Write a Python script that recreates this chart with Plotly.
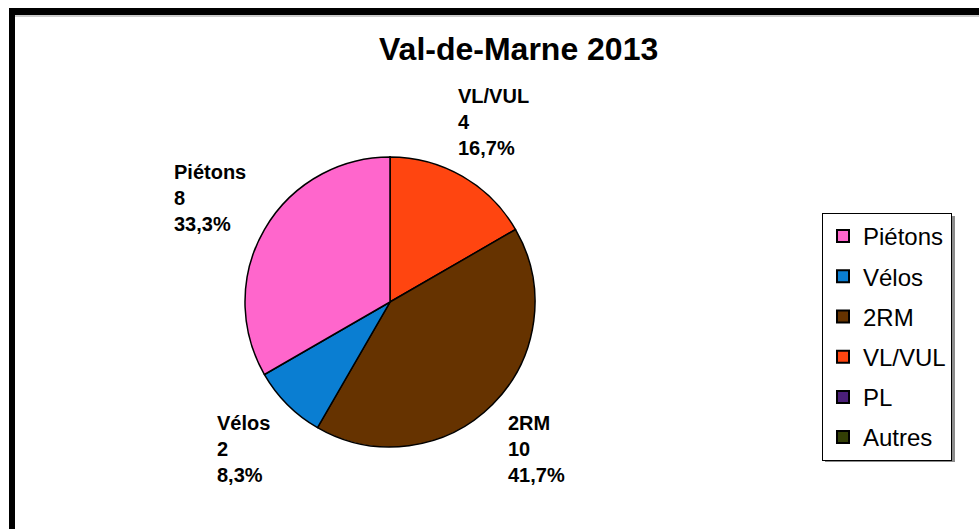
import math
import plotly.graph_objects as go

W, H = 979, 529

categories = ["Piétons", "Vélos", "2RM", "VL/VUL", "PL", "Autres"]
values = [8, 2, 10, 4, 0, 0]
colors = ["#FF66CC", "#0A7ED2", "#663300", "#FF4510", "#4B1F78", "#333F05"]
title_text = "Val-de-Marne 2013"

# pie placement (pixels)
cx, cy, R = 390, 302, 145
dom_x = [(cx - R) / W, (cx + R) / W]
dom_y = [(H - (cy + R)) / H, (H - (cy - R)) / H]

# Excel-style: first category ends at 12 o'clock, slices go counterclockwise.
# Equivalent in plotly: reversed order drawn clockwise from 12 o'clock.
fig = go.Figure()
fig.add_trace(go.Pie(
    labels=categories[::-1], values=values[::-1], sort=False,
    direction="clockwise", rotation=0,
    marker=dict(colors=colors[::-1], line=dict(color="black", width=1.5)),
    textinfo="none", hoverinfo="label+value+percent",
    domain=dict(x=dom_x, y=dom_y), showlegend=False,
))

# legend via dummy traces
for cat, col in zip(categories, colors):
    fig.add_trace(go.Scatter(
        x=[None], y=[None], mode="markers", name=cat, legendgroup=cat,
        marker=dict(symbol="square", size=16, color=col, line=dict(color="black", width=1)),
        showlegend=True,
    ))

# data labels computed from slice mid-angles (counterclockwise from top)
total = sum(values)
cum = 0
annotations = []
for cat, v in zip(categories, values):
    if v > 0:
        theta = 2 * math.pi * (cum + v / 2) / total
        dx = -math.sin(theta)
        dyu = math.cos(theta)
        px = cx + 1.43 * R * dx
        py = cy - 1.43 * R * dyu
        pct = f"{100 * v / total:.1f}".replace(".", ",") + "%"
        annotations.append(dict(
            x=px / W, y=(H - py) / H, xref="paper", yref="paper",
            text=f"<b>{cat}<br>{v}<br>{pct}</b>", showarrow=False,
            xanchor="center", yanchor="middle", align="left",
            font=dict(family="Liberation Sans, Arial", size=20, color="black"),
        ))
    cum += v

annotations.append(dict(
    x=518 / W, y=1 - 49 / H, xref="paper", yref="paper", text=f"<b>{title_text}</b>",
    showarrow=False, xanchor="center", yanchor="middle",
    font=dict(family="Liberation Sans, Arial", size=32, color="black"),
))

shapes = [
    # legend shadow
    dict(type="rect", xref="paper", yref="paper", x0=825 / W, x1=955 / W,
         y0=1 - 462 / H, y1=1 - 216 / H, fillcolor="#8c8c8c", line=dict(width=0)),
    # frame (top and left)
    dict(type="rect", xref="paper", yref="paper", x0=9 / W, x1=1.0, y0=1 - 15 / H, y1=1 - 8 / H,
         fillcolor="black", line=dict(width=0)),
    dict(type="rect", xref="paper", yref="paper", x0=9 / W, x1=15 / W, y0=0, y1=1 - 8 / H,
         fillcolor="black", line=dict(width=0)),
    dict(type="line", xref="paper", yref="paper", x0=15 / W, x1=1.0, y0=1 - 16 / H, y1=1 - 16 / H,
         line=dict(color="#999999", width=1)),
]

fig.update_layout(
    width=W, height=H, margin=dict(l=0, r=0, t=0, b=0, autoexpand=False),
    paper_bgcolor="white", plot_bgcolor="white",
    xaxis=dict(visible=False), yaxis=dict(visible=False),
    annotations=annotations, shapes=shapes,
    legend=dict(
        x=822 / W, y=1 - 213 / H, xanchor="left", yanchor="top",
        bgcolor="white", bordercolor="black", borderwidth=1,
        font=dict(family="Liberation Sans, Arial", size=24, color="black"),
        tracegroupgap=6, itemsizing="constant",
    ),
    separators=", ",
)

fig.write_html(
    "out.html",
    config={"displayModeBar": False},
    post_script="document.body.style.margin='0';document.body.style.overflow='hidden';",
)
